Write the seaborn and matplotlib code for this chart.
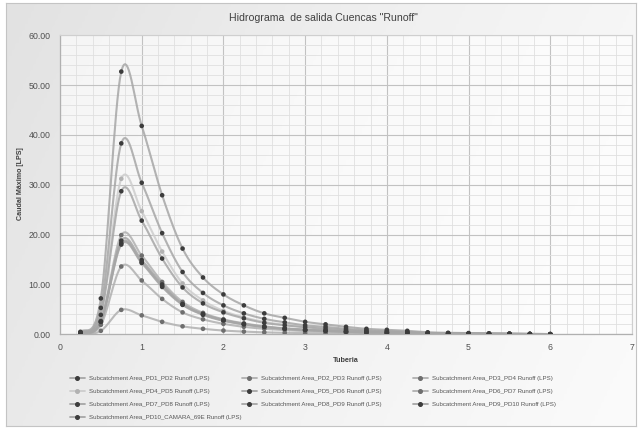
import numpy as np
import pandas as pd
import matplotlib
matplotlib.use("Agg")
import matplotlib.pyplot as plt
import seaborn as sns
from matplotlib.lines import Line2D
from matplotlib.colors import LinearSegmentedColormap
from matplotlib.ticker import MultipleLocator, FormatStrFormatter

sns.set_theme(style="whitegrid")
plt.rcParams['font.family'] = ['Liberation Sans', 'DejaVu Sans']

# Tiempo (eje x "Tuberia")
tiempo = [0.25, 0.5, 0.75, 1.0, 1.25, 1.5, 1.75, 2.0, 2.25, 2.5, 2.75, 3.0,
          3.25, 3.5, 3.75, 4.0, 4.25, 4.5, 4.75, 5.0, 5.25, 5.5, 5.75, 6.0]

series_names = [
    "Subcatchment Area_PD1_PD2 Runoff (LPS)",
    "Subcatchment Area_PD2_PD3 Runoff (LPS)",
    "Subcatchment Area_PD3_PD4 Runoff (LPS)",
    "Subcatchment Area_PD4_PD5 Runoff (LPS)",
    "Subcatchment Area_PD5_PD6 Runoff (LPS)",
    "Subcatchment Area_PD6_PD7 Runoff (LPS)",
    "Subcatchment Area_PD7_PD8 Runoff (LPS)",
    "Subcatchment Area_PD8_PD9 Runoff (LPS)",
    "Subcatchment Area_PD9_PD10 Runoff (LPS)",
    "Subcatchment Area_PD10_CAMARA_69E Runoff (LPS)",
]

# Caudales [LPS]
pd1_pd2 = [0.2, 2.4, 18.0, 14.3, 9.5, 5.9, 3.9, 2.7, 2.0, 1.4, 1.1, 0.85,
           0.68, 0.5, 0.38, 0.3, 0.23, 0.14, 0.1, 0.08, 0.07, 0.05, 0.03, 0.02]
pd2_pd3 = [0.2, 2.7, 19.9, 15.8, 10.5, 6.5, 4.3, 3.0, 2.2, 1.6, 1.2, 0.95,
           0.75, 0.57, 0.42, 0.34, 0.26, 0.15, 0.11, 0.09, 0.08, 0.06, 0.04, 0.02]
pd3_pd4 = [0.1, 1.9, 13.6, 10.8, 7.1, 4.4, 3.0, 2.1, 1.5, 1.1, 0.85, 0.64,
           0.5, 0.38, 0.28, 0.23, 0.18, 0.1, 0.08, 0.06, 0.05, 0.04, 0.03, 0.01]
pd4_pd5 = [0.3, 4.3, 31.2, 24.7, 16.6, 10.2, 6.8, 4.7, 3.4, 2.5, 1.9, 1.5,
           1.2, 0.9, 0.65, 0.53, 0.41, 0.25, 0.19, 0.15, 0.12, 0.09, 0.06, 0.03]
pd5_pd6 = [0.3, 3.9, 28.7, 22.8, 15.2, 9.4, 6.2, 4.4, 3.2, 2.3, 1.8, 1.4,
           1.1, 0.8, 0.6, 0.5, 0.38, 0.22, 0.17, 0.14, 0.11, 0.08, 0.05, 0.03]
pd6_pd7 = [0.05, 0.7, 4.9, 3.8, 2.5, 1.6, 1.1, 0.75, 0.54, 0.39, 0.3, 0.23,
           0.18, 0.14, 0.1, 0.08, 0.06, 0.04, 0.03, 0.02, 0.02, 0.01, 0.01, 0.0]
pd7_pd8 = [0.4, 5.3, 38.3, 30.4, 20.3, 12.5, 8.3, 5.8, 4.2, 3.1, 2.4, 1.8,
           1.5, 1.1, 0.8, 0.65, 0.5, 0.3, 0.22, 0.18, 0.15, 0.11, 0.07, 0.04]
pd8_pd9 = [0.2, 2.6, 18.8, 14.9, 10.0, 6.1, 4.1, 2.9, 2.1, 1.5, 1.15, 0.9,
           0.7, 0.53, 0.4, 0.32, 0.25, 0.14, 0.11, 0.09, 0.07, 0.05, 0.04, 0.02]
pd9_pd10 = [0.5, 7.2, 52.7, 41.8, 27.9, 17.2, 11.4, 8.0, 5.8, 4.2, 3.3, 2.5,
            2.0, 1.5, 1.1, 0.9, 0.7, 0.4, 0.3, 0.25, 0.2, 0.15, 0.1, 0.05]
pd10_camara = [0.2, 2.5, 18.3, 14.5, 9.7, 6.0, 4.0, 2.8, 2.0, 1.5, 1.1, 0.85,
               0.7, 0.52, 0.38, 0.31, 0.24, 0.14, 0.1, 0.09, 0.07, 0.05, 0.03, 0.02]

caudales = [pd1_pd2, pd2_pd3, pd3_pd4, pd4_pd5, pd5_pd6,
            pd6_pd7, pd7_pd8, pd8_pd9, pd9_pd10, pd10_camara]

dark, mid, light = "#3c3c3c", "#6e6e6e", "#b2b2b2"
dot_colors = [dark, mid, mid, light, dark, mid, dark, dark, dark, dark]
line_colors = ["#a6a6a6", "#b0b0b0", "#b0b0b0", "#cdcdcd", "#a6a6a6",
               "#b0b0b0", "#a6a6a6", "#a6a6a6", "#a6a6a6", "#a6a6a6"]


def smooth(x, y, n=16):
    # Catmull-Rom curve through the points, like Excel's smoothed line
    x = np.asarray(x, float)
    y = np.asarray(y, float)
    yp = np.concatenate([[y[0]], y, [y[-1]]])
    xs, ys = [], []
    t = np.linspace(0, 1, n, endpoint=False)
    for i in range(len(x) - 1):
        p0, p1, p2, p3 = yp[i], yp[i + 1], yp[i + 2], yp[i + 3]
        m1 = (p2 - p0) / 2
        m2 = (p3 - p1) / 2
        h00 = 2 * t**3 - 3 * t**2 + 1
        h10 = t**3 - 2 * t**2 + t
        h01 = -2 * t**3 + 3 * t**2
        h11 = t**3 - t**2
        xs.append(x[i] + t * (x[i + 1] - x[i]))
        ys.append(h00 * p1 + h10 * m1 + h01 * p2 + h11 * m2)
    xs.append([x[-1]])
    ys.append([y[-1]])
    return np.concatenate(xs), np.concatenate(ys)


rows_pts, rows_line = [], []
for name, q in zip(series_names, caudales):
    for t_, v in zip(tiempo, q):
        rows_pts.append({"Tuberia": t_, "Caudal": v, "serie": name})
    sx, sy = smooth(tiempo, q)
    for a, b in zip(sx, sy):
        rows_line.append({"Tuberia": a, "Caudal": b, "serie": name})
pts_df = pd.DataFrame(rows_pts)
line_df = pd.DataFrame(rows_line)

fig = plt.figure(figsize=(6.4, 4.29), dpi=100, facecolor="white")

# chart area background (soft gradient) with thin border
bg = fig.add_axes([6 / 640, 3 / 429, 630 / 640, 423 / 429], zorder=-10)
gx, gy = np.meshgrid(np.linspace(0, 1, 200), np.linspace(0, 1, 200))
grad = 0.75 * gx + 0.25 * gy
cmap_bg = LinearSegmentedColormap.from_list("bg", ["#e2e2e2", "#f1f1f1", "#fbfbfb"])
bg.imshow(grad, cmap=cmap_bg, aspect="auto", extent=[0, 1, 0, 1])
bg.set_xticks([])
bg.set_yticks([])
for s in bg.spines.values():
    s.set_color("#c4c4c4")
    s.set_linewidth(0.8)

ax = fig.add_axes([60 / 640, 1 - 334.3 / 429, 572 / 640, 299.1 / 429])
ax.set_facecolor((1, 1, 1, 0.65))

sns.lineplot(data=line_df, x="Tuberia", y="Caudal", hue="serie",
             palette=dict(zip(series_names, line_colors)), estimator=None,
             sort=False, lw=1.5, alpha=0.85, legend=False, ax=ax, zorder=2)
sns.scatterplot(data=pts_df, x="Tuberia", y="Caudal", hue="serie",
                palette=dict(zip(series_names, dot_colors)), s=11,
                linewidth=0, legend=False, ax=ax, zorder=3)

ax.set_xlim(0, 7)
ax.set_ylim(0, 60)
ax.xaxis.set_major_locator(MultipleLocator(1))
ax.xaxis.set_minor_locator(MultipleLocator(0.2))
ax.yaxis.set_major_locator(MultipleLocator(10))
ax.yaxis.set_minor_locator(MultipleLocator(2))
ax.yaxis.set_major_formatter(FormatStrFormatter("%.2f"))
ax.grid(which="major", color="#c2c2c2", lw=0.8)
ax.grid(which="minor", color="#e0e0e0", lw=0.6)
ax.set_axisbelow(True)
ax.tick_params(which="both", length=0, labelsize=6.3, colors="#505050")
ax.tick_params(axis="y", pad=7)
ax.tick_params(axis="x", pad=6)
for side in ["left", "bottom"]:
    ax.spines[side].set_color("#b0b0b0")
    ax.spines[side].set_linewidth(0.9)
for side in ["top", "right"]:
    ax.spines[side].set_color("#cfcfcf")
    ax.spines[side].set_linewidth(0.8)

ax.set_xlabel("Tuberia", fontsize=5.2, fontweight="bold", color="#404040")
ax.set_ylabel("Caudal Máximo [LPS]", fontsize=5.1, fontweight="bold", color="#404040")
ax.xaxis.set_label_coords(0.5, -0.077)
ax.yaxis.set_label_coords(-0.063, 0.504)

fig.text(0.505, 1 - 18 / 429, 'Hidrograma  de salida Cuencas "Runoff"',
         ha="center", va="center", fontsize=7.6, color="#404040")

# legend: three columns laid out like the Excel legend (row-major order)
handles = [Line2D([], [], color=lc, lw=1.3, marker="o", markersize=2.6,
                  markerfacecolor=dc, markeredgecolor=dc)
           for lc, dc in zip(line_colors, dot_colors)]
col_x = [70, 242, 413]
for c in range(3):
    idx = list(range(c, len(series_names), 3))
    fig.legend([handles[i] for i in idx], [series_names[i] for i in idx],
               loc="upper left", bbox_to_anchor=(col_x[c] / 640, 1 - 376 / 429),
               frameon=False, fontsize=4.4, labelcolor="#555555",
               handlelength=2.45, handletextpad=0.7, labelspacing=1.25,
               borderpad=0, borderaxespad=0)

fig.savefig("out.png", dpi=100, facecolor=fig.get_facecolor())
